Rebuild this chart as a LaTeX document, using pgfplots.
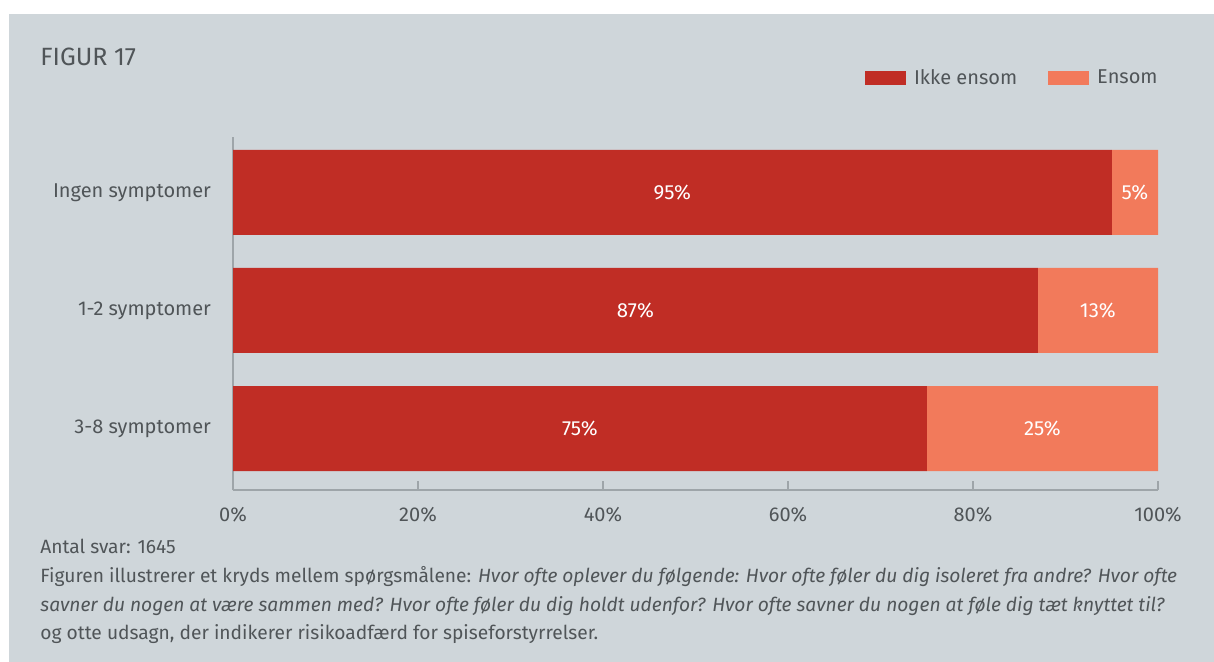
\documentclass[border=0pt]{standalone}
\usepackage{fontspec}
\setmainfont{Fira Sans}
\usepackage{pgfplots}
\pgfplotsset{compat=1.18}
\definecolor{bg}{HTML}{CFD6DA}
\definecolor{ikke}{HTML}{C02D25}
\definecolor{ensom}{HTML}{F27A5B}
\definecolor{txt}{HTML}{505558}
\definecolor{axl}{HTML}{9EA5A9}
\begin{document}
\begin{tikzpicture}
\fill[white] (0pt,0pt) rectangle (607pt,-331pt);
\fill[bg] (4.5pt,-7pt) rectangle (607pt,-331pt);
\begin{axis}[
  at={(116.5pt,-245pt)}, anchor=south west,
  scale only axis, width=462.5pt, height=176.5pt,
  xmin=0, xmax=100, ymin=-0.521, ymax=2.470,
  xbar stacked, bar width=42.5pt,
  axis x line*=bottom, axis y line*=left,
  axis line style={axl, line width=0.8pt},
  xtick={0,20,...,100},
  xticklabel={\pgfmathprintnumber{\tick}\%},
  tick align=inside, major tick length=4.5pt,
  xtick style={axl, line width=0.8pt},
  ytick={0,1,2},
  yticklabels={3-8 symptomer,1-2 symptomer,Ingen symptomer},
  ytick style={draw=none},
  tick label style={font=\fontsize{10}{12}\selectfont, text=txt},
  xticklabel style={yshift=-5pt},
  yticklabel style={xshift=-7.5pt},
  /pgf/number format/assume math mode=true,
  legend columns=2,
  legend style={at={(1,1.166)}, anchor=east, xshift=5.5pt, draw=none, fill=none,
    font=\fontsize{10}{12}\selectfont, text=txt,
    nodes={inner sep=2.5pt},
    /tikz/every even column/.append style={column sep=13pt}},
  legend image code/.code={\fill[#1] (0pt,-3.5pt) rectangle (20.5pt,3.5pt); \path (22pt,0pt);},
]
\addplot[fill=ikke, draw=none] coordinates {(75,0) (87,1) (95,2)};
\addplot[fill=ensom, draw=none] coordinates {(25,0) (13,1) (5,2)};
\legend{Ikke ensom, Ensom}
\coordinate (a2) at (axis cs:47.5,2);
\coordinate (b2) at (axis cs:97.5,2);
\coordinate (a1) at (axis cs:43.5,1);
\coordinate (b1) at (axis cs:93.5,1);
\coordinate (a0) at (axis cs:37.5,0);
\coordinate (b0) at (axis cs:87.5,0);
\end{axis}
\begin{scope}[every node/.style={text=white, font=\fontsize{10.2}{12}\selectfont}]
\node at (a2) {95\%};
\node at (b2) {5\%};
\node at (a1) {87\%};
\node at (b1) {13\%};
\node at (a0) {75\%};
\node at (b0) {25\%};
\end{scope}
\node[anchor=west, text=txt, font=\fontsize{12.5}{14}\selectfont, inner sep=0pt] at (20pt,-28.5pt) {FIGUR 17};
\begin{scope}[every node/.style={anchor=base west, text=txt, font=\fontsize{9.6}{11}\selectfont, inner sep=0pt}]
\node at (20pt,-276.5pt) {Antal svar: 1645};
\node at (20pt,-291pt) {Figuren illustrerer et kryds mellem spørgsmålene: \textit{Hvor ofte oplever du følgende: Hvor ofte føler du dig isoleret fra andre? Hvor ofte}};
\node at (20pt,-305.5pt) {\textit{savner du nogen at være sammen med? Hvor ofte føler du dig holdt udenfor? Hvor ofte savner du nogen at føle dig tæt knyttet til?}};
\node at (20pt,-319.5pt) {og otte udsagn, der indikerer risikoadfærd for spiseforstyrrelser.};
\end{scope}
\end{tikzpicture}
\end{document}
